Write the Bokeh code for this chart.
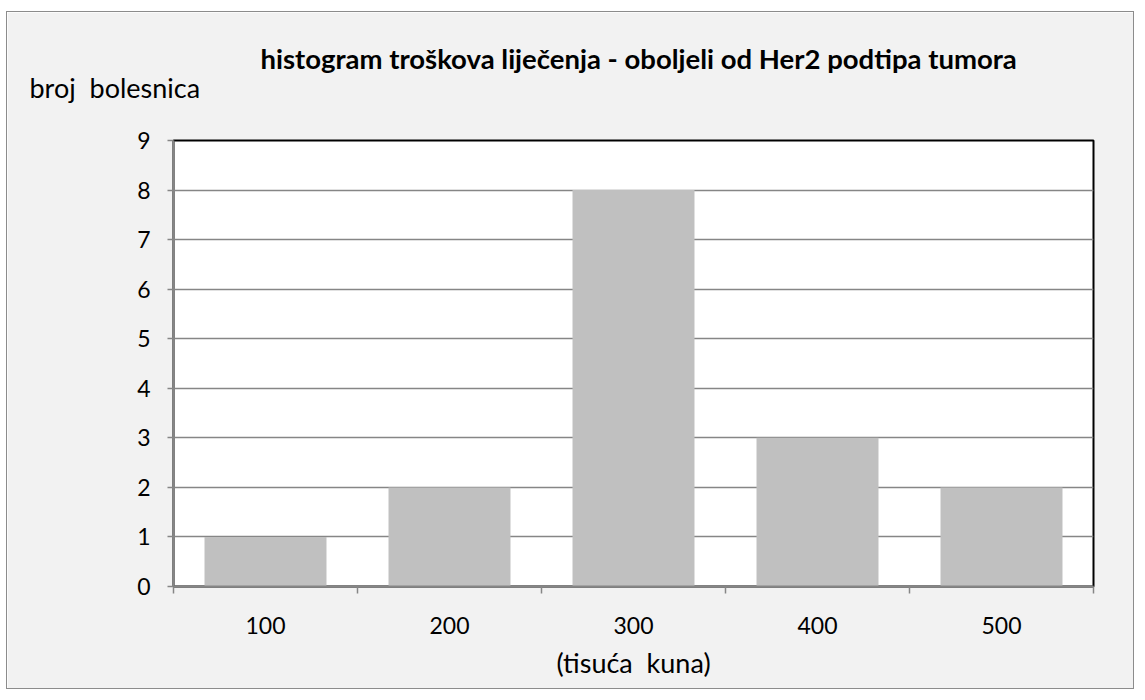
from bokeh.plotting import figure
from bokeh.models import Range1d, FixedTicker, Title, ColumnDataSource
from bokeh.embed import file_html
from bokeh.resources import INLINE

categories = ["100", "200", "300", "400", "500"]
counts = [1, 2, 8, 3, 2]
y_ticks = [0, 1, 2, 3, 4, 5, 6, 7, 8, 9]

title_text = "histogram troškova liječenja - oboljeli od Her2 podtipa tumora"
y_label = "broj\u00a0 bolesnica"
x_label = "(tisuća\u00a0 kuna)"

FONT = "Lato"
BG = "#f2f2f2"
AXIS_GRAY = "#868686"

n = len(categories)
centers = [i + 0.5 for i in range(n)]
src = ColumnDataSource(dict(x=centers, top=counts))

p = figure(width=1128, height=678, output_backend="svg", toolbar_location=None,
           x_range=Range1d(0, n), y_range=Range1d(0, 9),
           min_border_left=166, min_border_top=128, min_border_right=42, min_border_bottom=104)
p.styles = {"margin-top": "11px", "margin-left": "6px", "border": "1px solid #8c8c8c"}
p.background_fill_color = "white"
p.border_fill_color = BG
p.outline_line_color = "black"
p.outline_line_width = 2

p.vbar(x="x", top="top", width=0.663, source=src, fill_color="#c0c0c0", line_color=None)

# x axis: labels at centers, tick marks at category boundaries
xa = p.xaxis[0]
xa.ticker = FixedTicker(ticks=centers, minor_ticks=list(range(n + 1)))
xa.major_label_overrides = {c: lab for c, lab in zip(centers, categories)}
xa.major_tick_line_color = None
xa.major_tick_out = 0
xa.major_tick_in = 0
xa.minor_tick_line_color = AXIS_GRAY
xa.minor_tick_line_width = 1.5
xa.minor_tick_out = 7
xa.minor_tick_in = 0
xa.axis_line_color = AXIS_GRAY
xa.axis_line_width = 2
xa.major_label_text_font = FONT
xa.major_label_text_font_size = "23px"
xa.major_label_text_color = "black"
xa.major_label_standoff = 23
xa.axis_label = x_label
xa.axis_label_text_font = FONT
xa.axis_label_text_font_style = "normal"
xa.axis_label_text_font_size = "27px"
xa.axis_label_text_color = "black"
xa.axis_label_standoff = 9

ya = p.yaxis[0]
ya.ticker = FixedTicker(ticks=y_ticks)
ya.minor_tick_line_color = None
ya.major_tick_line_color = AXIS_GRAY
ya.major_tick_line_width = 1.5
ya.major_tick_out = 6
ya.major_tick_in = 0
ya.axis_line_color = AXIS_GRAY
ya.axis_line_width = 2
ya.major_label_text_font = FONT
ya.major_label_text_font_size = "23px"
ya.major_label_text_color = "black"
ya.major_label_standoff = 17

p.xgrid.grid_line_color = None
p.ygrid.grid_line_color = AXIS_GRAY
p.ygrid.grid_line_width = 1.5

p.title.text = title_text
p.title.align = "left"
p.title.offset = 87
p.title.text_font = FONT
p.title.text_font_style = "bold"
p.title.text_font_size = "27.5px"
p.title.text_color = "black"
p.title.standoff = -86

ytitle = Title(text=y_label, align="left", offset=-144, text_font=FONT, text_font_style="normal",
               text_font_size="27px", text_color="black", standoff=74)
p.add_layout(ytitle, "above")

open("out.html", "w").write(file_html(p, INLINE))
